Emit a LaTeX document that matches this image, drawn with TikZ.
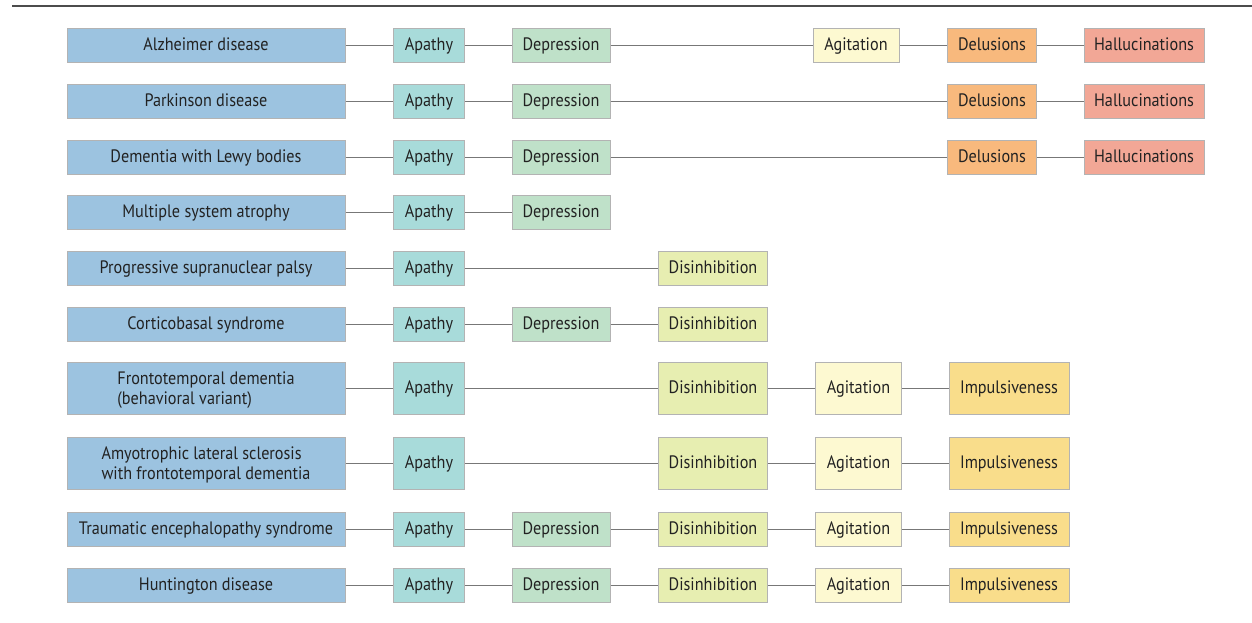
\documentclass[tikz,border=0pt]{standalone}
\usepackage{fontspec}
\setmainfont{PT Sans}[FakeStretch=0.9]
\definecolor{diseasecol}{HTML}{9CC3E0}
\definecolor{apathycol}{HTML}{A8DBDA}
\definecolor{depressioncol}{HTML}{BFE1C9}
\definecolor{disinhcol}{HTML}{E7EEB1}
\definecolor{agitcol}{HTML}{FDF9D1}
\definecolor{delucol}{HTML}{F8B97D}
\definecolor{hallucol}{HTML}{F2A796}
\definecolor{impulscol}{HTML}{F9DD8B}
\definecolor{edgecol}{HTML}{B3B3B3}
\definecolor{linkcol}{HTML}{777777}
\definecolor{textcol}{HTML}{222222}
\newcommand{\lift}{\rule{0pt}{17pt}}
\tikzset{
  box/.style={rectangle,draw=edgecol,line width=1pt,text=textcol,inner sep=0pt,
    minimum height=34pt,text height=14pt,text depth=3pt,
    font=\fontsize{18}{20}\selectfont},
  tall/.style={minimum height=52pt},
  twoline/.style={tall,text height={},text depth={}},
  disease/.style={box,fill=diseasecol,minimum width=278pt,align=left},
  apathy/.style={box,fill=apathycol,minimum width=71pt},
  depression/.style={box,fill=depressioncol,minimum width=98pt},
  disinh/.style={box,fill=disinhcol,minimum width=109pt},
  agit/.style={box,fill=agitcol,minimum width=86pt},
  delu/.style={box,fill=delucol,minimum width=89pt},
  hallu/.style={box,fill=hallucol,minimum width=120pt},
  impuls/.style={box,fill=impulscol,minimum width=120pt},
  link/.style={draw=linkcol,line width=1pt}
}
\begin{document}
\begin{tikzpicture}[x=1pt,y=-1pt]
\useasboundingbox (0,0) rectangle (1252,622);
\draw[line width=2pt,color=black!70] (12,6) -- (1252,6);
% Alzheimer
\node[disease] (ad) at (206,45) {Alzheimer disease};
\node[apathy] (ad-ap) at (429,45) {Apathy};
\node[depression] (ad-de) at (561,45) {Depression};
\node[agit] (ad-ag) at (856,45) {Agitation};
\node[delu] (ad-dl) at (992,45) {Delusions};
\node[hallu] (ad-ha) at (1144,45) {Hallucinations};
% Parkinson
\node[disease] (pd) at (206,101) {Parkinson disease};
\node[apathy] (pd-ap) at (429,101) {Apathy};
\node[depression] (pd-de) at (561,101) {Depression};
\node[delu] (pd-dl) at (992,101) {Delusions};
\node[hallu] (pd-ha) at (1144,101) {Hallucinations};
% Lewy
\node[disease] (dlb) at (206,157) {Dementia with Lewy bodies};
\node[apathy] (dlb-ap) at (429,157) {Apathy};
\node[depression] (dlb-de) at (561,157) {Depression};
\node[delu] (dlb-dl) at (992,157) {Delusions};
\node[hallu] (dlb-ha) at (1144,157) {Hallucinations};
% MSA
\node[disease] (msa) at (206,212) {Multiple system atrophy};
\node[apathy] (msa-ap) at (429,212) {Apathy};
\node[depression] (msa-de) at (561,212) {Depression};
% PSP
\node[disease] (psp) at (206,268) {Progressive supranuclear palsy};
\node[apathy] (psp-ap) at (429,268) {Apathy};
\node[disinh] (psp-di) at (713,268) {Disinhibition};
% CBS
\node[disease] (cbs) at (206,324) {Corticobasal syndrome};
\node[apathy] (cbs-ap) at (429,324) {Apathy};
\node[depression] (cbs-de) at (561,324) {Depression};
\node[disinh] (cbs-di) at (713,324) {Disinhibition};
% bvFTD
\node[disease,twoline] (ftd) at (206,388) {\lift Frontotemporal dementia\\(behavioral variant)};
\node[apathy,tall] (ftd-ap) at (429,388) {Apathy};
\node[disinh,tall] (ftd-di) at (713,388) {Disinhibition};
\node[agit,tall] (ftd-ag) at (858.5,388) {Agitation};
\node[impuls,tall] (ftd-im) at (1009,388) {Impulsiveness};
% ALS-FTD
\node[disease,twoline] (als) at (206,463) {\lift Amyotrophic lateral sclerosis\\with frontotemporal dementia};
\node[apathy,tall] (als-ap) at (429,463) {Apathy};
\node[disinh,tall] (als-di) at (713,463) {Disinhibition};
\node[agit,tall] (als-ag) at (858.5,463) {Agitation};
\node[impuls,tall] (als-im) at (1009,463) {Impulsiveness};
% TES
\node[disease] (tes) at (206,529) {Traumatic encephalopathy syndrome};
\node[apathy] (tes-ap) at (429,529) {Apathy};
\node[depression] (tes-de) at (561,529) {Depression};
\node[disinh] (tes-di) at (713,529) {Disinhibition};
\node[agit] (tes-ag) at (858.5,529) {Agitation};
\node[impuls] (tes-im) at (1009,529) {Impulsiveness};
% Huntington
\node[disease] (hd) at (206,585) {Huntington disease};
\node[apathy] (hd-ap) at (429,585) {Apathy};
\node[depression] (hd-de) at (561,585) {Depression};
\node[disinh] (hd-di) at (713,585) {Disinhibition};
\node[agit] (hd-ag) at (858.5,585) {Agitation};
\node[impuls] (hd-im) at (1009,585) {Impulsiveness};
% connectors
\path[link] (ad) -- (ad-ap) -- (ad-de) -- (ad-ag) -- (ad-dl) -- (ad-ha);
\path[link] (pd) -- (pd-ap) -- (pd-de) -- (pd-dl) -- (pd-ha);
\path[link] (dlb) -- (dlb-ap) -- (dlb-de) -- (dlb-dl) -- (dlb-ha);
\path[link] (msa) -- (msa-ap) -- (msa-de);
\path[link] (psp) -- (psp-ap) -- (psp-di);
\path[link] (cbs) -- (cbs-ap) -- (cbs-de) -- (cbs-di);
\path[link] (ftd) -- (ftd-ap) -- (ftd-di) -- (ftd-ag) -- (ftd-im);
\path[link] (als) -- (als-ap) -- (als-di) -- (als-ag) -- (als-im);
\path[link] (tes) -- (tes-ap) -- (tes-de) -- (tes-di) -- (tes-ag) -- (tes-im);
\path[link] (hd) -- (hd-ap) -- (hd-de) -- (hd-di) -- (hd-ag) -- (hd-im);
\end{tikzpicture}
\end{document}
